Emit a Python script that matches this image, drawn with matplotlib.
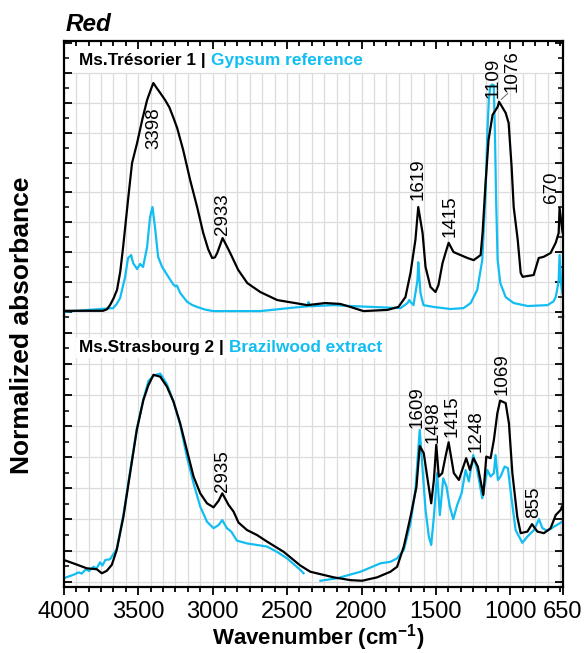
import numpy as np
import matplotlib
matplotlib.use('Agg')
import matplotlib.pyplot as plt
from matplotlib.ticker import FixedLocator

plt.rcParams['font.family'] = ['Liberation Sans', 'DejaVu Sans']
plt.rcParams['mathtext.fontset'] = 'custom'
plt.rcParams['mathtext.rm'] = 'Liberation Sans'
plt.rcParams['mathtext.bf'] = 'Liberation Sans:bold'

CYAN = '#12bdf2'

# --- Ms.Tresorier 1 (black) and gypsum reference (cyan), upper panel ---
tres_wn = [4000, 3736, 3710, 3689, 3665, 3642, 3620, 3601, 3568, 3541, 3507, 3473, 3440,
           3415, 3398, 3375, 3352, 3319, 3290, 3265, 3238, 3198, 3151, 3104, 3063, 3030,
           3003, 2985, 2969, 2933, 2905, 2882, 2828, 2767, 2680, 2566, 2411, 2364, 2243,
           2142, 2075, 1987, 1826, 1752, 1705, 1671, 1638, 1619, 1590, 1570, 1537, 1503,
           1483, 1456, 1436, 1415, 1382, 1335, 1288, 1247, 1200, 1187, 1167, 1147, 1120,
           1086, 1076, 1032, 1012, 992, 978, 951, 931, 918, 844, 810, 777, 730, 696, 676,
           670, 656, 650]
tres_abs = [0.03, 0.03, 0.08, 0.22, 0.45, 0.73, 1.35, 2.17, 3.75, 4.99, 5.66, 6.43, 7.10,
            7.45, 7.67, 7.50, 7.34, 7.10, 6.85, 6.53, 6.16, 5.43, 4.42, 3.51, 2.64, 2.10,
            1.80, 1.82, 1.97, 2.47, 2.20, 1.97, 1.40, 0.96, 0.66, 0.39, 0.26, 0.22, 0.29,
            0.26, 0.16, 0.02, 0.06, 0.16, 0.49, 1.30, 2.41, 3.51, 2.64, 1.50, 0.83, 0.66,
            0.90, 1.63, 1.97, 2.31, 2.00, 1.90, 1.80, 1.73, 1.90, 2.64, 4.31, 5.76, 6.60,
            6.87, 7.04, 6.67, 6.33, 4.86, 3.51, 2.41, 1.30, 1.17, 1.23, 1.80, 1.84, 1.97,
            2.31, 2.64, 3.48, 2.91, 2.67]

gyps_wn = [4000, 3668, 3645, 3621, 3588, 3568, 3547, 3534, 3507, 3487, 3467, 3440, 3420,
           3404, 3387, 3366, 3339, 3305, 3265, 3250, 3240, 3218, 3171, 3135, 3104, 3050,
           2996, 2680, 2411, 2360, 2356, 2345, 2190, 2075, 1738, 1691, 1680, 1671, 1651,
           1624, 1619, 1604, 1584, 1517, 1402, 1315, 1267, 1223, 1189, 1167, 1155, 1145,
           1135, 1124, 1112, 1104, 1096, 1086, 1068, 1032, 978, 884, 750, 710, 696, 684,
           676, 670, 660, 650]
gyps_abs = [0.00, 0.12, 0.25, 0.46, 1.16, 1.80, 1.90, 1.63, 1.43, 1.60, 1.50, 2.17, 3.18,
            3.51, 2.84, 1.84, 1.50, 1.23, 0.92, 0.85, 0.88, 0.63, 0.33, 0.22, 0.16, 0.07,
            0.02, 0.02, 0.16, 0.18, 0.32, 0.18, 0.22, 0.19, 0.12, 0.29, 0.39, 0.33, 0.22,
            1.06, 1.66, 0.63, 0.22, 0.16, 0.09, 0.12, 0.29, 0.73, 1.73, 3.98, 5.99, 7.10,
            7.55, 7.62, 7.60, 6.00, 3.75, 1.74, 0.96, 0.49, 0.29, 0.19, 0.22, 0.35, 0.49,
            0.80, 1.06, 1.90, 0.96, 0.60]

# --- Ms.Strasbourg 2 (black) and Brazilwood extract (cyan), lower panel ---
stras_wn = [4000, 3935, 3845, 3778, 3744, 3711, 3677, 3644, 3599, 3554, 3509, 3465, 3431,
            3397, 3352, 3307, 3263, 3218, 3173, 3128, 3083, 3038, 2994, 2960, 2935, 2893,
            2859, 2826, 2769, 2702, 2635, 2523, 2411, 2344, 2187, 2075, 1996, 1895, 1806,
            1761, 1716, 1671, 1631, 1609, 1582, 1559, 1532, 1514, 1498, 1481, 1458, 1436,
            1415, 1380, 1346, 1324, 1297, 1272, 1248, 1219, 1182, 1162, 1133, 1111, 1088,
            1069, 1032, 1010, 987, 954, 931, 886, 855, 819, 775, 730, 696, 662, 650]
stras_abs = [0.70, 0.59, 0.43, 0.40, 0.27, 0.35, 0.54, 1.02, 2.09, 3.49, 4.88, 5.84, 6.32,
             6.65, 6.59, 6.27, 5.79, 5.09, 4.23, 3.38, 2.84, 2.52, 2.39, 2.60, 2.84, 2.47,
             2.25, 1.90, 1.66, 1.50, 1.29, 0.96, 0.52, 0.32, 0.14, 0.05, 0.03, 0.14, 0.32,
             0.48, 1.13, 2.09, 3.05, 4.36, 4.13, 3.38, 2.52, 3.27, 4.40, 3.38, 3.49, 4.02,
             4.48, 3.49, 3.27, 3.59, 3.97, 3.59, 3.97, 3.70, 2.79, 4.02, 3.97, 4.56, 5.41,
             5.82, 5.74, 5.09, 3.49, 2.09, 1.56, 1.61, 1.85, 1.61, 1.56, 1.72, 2.14, 2.31, 2.45]

# the extract spectrum has the CO2 region cut out (nan breaks the line)
brazil_wn = [4000, 3960, 3935, 3900, 3880, 3850, 3830, 3800, 3780, 3756, 3740, 3720, 3689,
             3644, 3599, 3554, 3509, 3465, 3431, 3397, 3352, 3307, 3263, 3218, 3173, 3128,
             3083, 3038, 2994, 2960, 2935, 2904, 2875, 2837, 2769, 2702, 2635, 2568, 2500,
             2411, 2389, np.nan,
             2276, 2164, 2007, 1873, 1806, 1761, 1716, 1671, 1638, 1609, 1593, 1570, 1548,
             1532, 1514, 1492, 1474, 1451, 1429, 1407, 1384, 1357, 1328, 1301, 1279, 1250,
             1223, 1189, 1155, 1133, 1111, 1100, 1084, 1066, 1039, 1017, 994, 965, 920, 886,
             842, 808, 785, 752, 707, 650]
brazil_abs = [0.11, 0.18, 0.22, 0.30, 0.26, 0.40, 0.34, 0.48, 0.42, 0.62, 0.52, 0.70, 0.72,
              1.05, 2.15, 3.55, 4.92, 5.86, 6.45, 6.62, 6.69, 6.35, 5.80, 5.05, 4.02, 3.16,
              2.41, 1.93, 1.72, 1.82, 1.98, 1.72, 1.61, 1.32, 1.23, 1.18, 1.13, 0.96, 0.75,
              0.38, 0.27, np.nan,
              0.03, 0.11, 0.32, 0.59, 0.64, 0.75, 1.02, 1.88, 2.95, 4.88, 3.81, 2.31, 1.45,
              1.18, 2.09, 3.49, 2.14, 3.32, 3.05, 2.41, 2.01, 2.47, 2.84, 3.59, 3.22, 4.07,
              3.59, 2.68, 3.59, 3.38, 3.49, 4.07, 3.27, 3.38, 3.70, 3.65, 2.73, 1.66, 1.25,
              1.45, 1.66, 2.01, 1.72, 1.63, 1.77, 1.93]

# peak labels: text, x position, y of the label foot
top_labels = ['3398', '2933', '1619', '1415', '1109', '1076', '670']
top_label_x = [3394, 2932, 1620, 1406, 1119, 991, 722]
top_label_y = [5.46, 2.57, 3.75, 2.51, 7.17, 7.37, 3.65]

bot_labels = ['2935', '1609', '1498', '1415', '1248', '1069', '855']
bot_label_x = [2932, 1628, 1522, 1394, 1233, 1055, 846]
bot_label_y = [2.88, 4.94, 4.46, 4.65, 4.17, 6.01, 2.05]

xmajor = [4000, 3500, 3000, 2500, 2000, 1500, 1000, 650]
xminor = [4000 - k * 500 / 6 for k in range(1, 41) if k % 6 != 0]

fig = plt.figure(figsize=(5.85, 6.53), dpi=100)
ax1 = fig.add_axes([0.1089, 0.5161, 0.8527, 0.4211])
ax2 = fig.add_axes([0.1089, 0.1011, 0.8527, 0.4150])

ax1.set_ylim(-0.144, 9.08)
ax2.set_ylim(-0.17, 8.54)

GRID = '#dcdcdc'
for ax, gtop in [(ax1, 8.0), (ax2, 8.54)]:
    ax.set_xlim(4000, 650)
    ylo = ax.get_ylim()[0]
    ax.vlines(xminor + xmajor[1:-1], ylo, gtop, color=GRID, lw=0.9, zorder=0.5)
    ax.hlines(range(0, 9), 4000, 650, color=GRID, lw=0.9, zorder=0.5)
    ax.xaxis.set_major_locator(FixedLocator(xmajor))
    ax.xaxis.set_minor_locator(FixedLocator(xminor))
    ax.yaxis.set_major_locator(FixedLocator(np.arange(0, 10)))
    ax.yaxis.set_minor_locator(FixedLocator(np.arange(0.5, 10, 1)))
    ax.tick_params(axis='y', which='both', direction='in', left=True, right=True,
                   labelleft=False, width=1.3)
    ax.tick_params(which='major', length=6)
    ax.tick_params(which='minor', length=3.5, width=1.1)
    for s in ax.spines.values():
        s.set_linewidth(1.6)

ax1.spines['bottom'].set_visible(False)
ax2.spines['top'].set_visible(False)
ax1.tick_params(axis='x', which='both', direction='in', top=True, bottom=False,
                labelbottom=False, width=1.3)
ax2.tick_params(axis='x', which='both', direction='out', top=False, bottom=True,
                labelsize=17, width=1.3, pad=4)

ax1.plot(gyps_wn, gyps_abs, color=CYAN, lw=1.6, zorder=2)
ax1.plot(tres_wn, tres_abs, color='black', lw=1.6, zorder=3)
ax2.plot(brazil_wn, brazil_abs, color=CYAN, lw=1.6, zorder=2)
ax2.plot(stras_wn, stras_abs, color='black', lw=1.6, zorder=3)

for t, x, y in zip(top_labels, top_label_x, top_label_y):
    ax1.text(x, y, t, rotation=90, ha='center', va='bottom', fontsize=13.5, zorder=4)
for t, x, y in zip(bot_labels, bot_label_x, bot_label_y):
    ax2.text(x, y, t, rotation=90, ha='center', va='bottom', fontsize=13.5, zorder=4)
# leader from the 1076 label down to its peak
ax1.plot([1062, 1018], [7.12, 7.32], color='#666666', lw=0.7, zorder=4)

# panel headers, two colours
box = dict(facecolor='white', edgecolor='none', pad=2)
t1 = ax1.text(0.031, 0.93, 'Ms.Trésorier 1 | ', transform=ax1.transAxes,
              fontsize=12.4, fontweight='bold', va='center', ha='left', zorder=5)
ax1.annotate('Gypsum reference', xy=(1, 0), xycoords=t1, va='bottom', ha='left',
             fontsize=12.4, fontweight='bold', color=CYAN, zorder=5)
t2 = ax2.text(0.031, 0.882, 'Ms.Strasbourg 2 | ', transform=ax2.transAxes,
              fontsize=12.4, fontweight='bold', va='center', ha='left', bbox=box, zorder=5)
ax2.annotate('Brazilwood extract', xy=(1, 0), xycoords=t2, va='bottom', ha='left',
             fontsize=12.4, fontweight='bold', color=CYAN, bbox=box, zorder=5)

fig.text(66 / 585, 1 - 31 / 653, 'Red', fontsize=17.5, fontweight='bold', style='italic',
         va='baseline', ha='left')
fig.text(22 / 585, 1 - 325 / 653, 'Normalized absorbance', rotation=90, ha='center',
         va='center', fontsize=19, fontweight='bold')
fig.text(318 / 585, 1 - 638 / 653, r'Wavenumber (cm$^{\mathbf{-1}}$)', ha='center',
         va='center', fontsize=16, fontweight='bold')

fig.savefig('out.png', dpi=100)
